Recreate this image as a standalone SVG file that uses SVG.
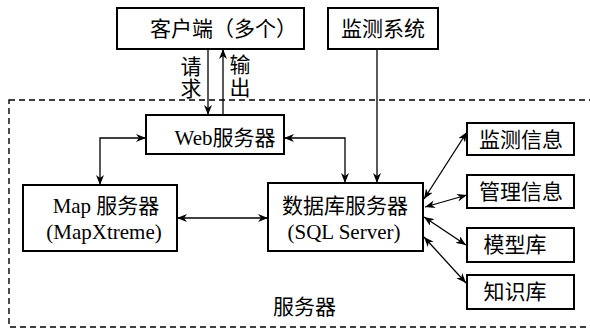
<svg xmlns="http://www.w3.org/2000/svg" width="590" height="329" viewBox="0 0 590 329">
<style>
.box{fill:#fff;stroke:#000;stroke-width:2}
.t{font-family:"Liberation Serif","Noto Sans CJK SC",serif;font-size:21px;fill:#000}
.c{text-anchor:middle}
.ln{fill:none;stroke:#000;stroke-width:1.3}
</style>
<defs>
<marker id="ar" viewBox="0 0 10 8" refX="10" refY="4" markerWidth="10" markerHeight="8" markerUnits="userSpaceOnUse" orient="auto-start-reverse">
<path d="M0,0 L10,4 L0,8 L3,4 z" fill="#000"/>
</marker>
</defs>
<rect x="9" y="100" width="600" height="227" fill="none" stroke="#000" stroke-width="1.4" stroke-dasharray="6,4"/>
<text class="t" x="273" y="314" font-size="20">服务器</text>
<g id="connectors">
<path class="ln" d="M208,49 V115" marker-end="url(#ar)"/>
<path class="ln" d="M223,115 V49" marker-end="url(#ar)"/>
<path class="ln" d="M146,138 H100 V185" marker-start="url(#ar)" marker-end="url(#ar)"/>
<path class="ln" d="M284,138 H345 V183" marker-start="url(#ar)" marker-end="url(#ar)"/>
<path class="ln" d="M377,49 V183" marker-end="url(#ar)"/>
<path class="ln" d="M177,218 H268" marker-start="url(#ar)" marker-end="url(#ar)"/>
<path class="ln" d="M424,199 L467,132" marker-start="url(#ar)" marker-end="url(#ar)"/>
<path class="ln" d="M425,207 L467,195" marker-start="url(#ar)" marker-end="url(#ar)"/>
<path class="ln" d="M424,217 L466,245" marker-start="url(#ar)" marker-end="url(#ar)"/>
<path class="ln" d="M424,237 L466,283" marker-start="url(#ar)" marker-end="url(#ar)"/>
<text class="t c" x="191" y="74" font-size="20">请</text>
<text class="t c" x="191" y="96" font-size="20">求</text>
<text class="t c" x="240" y="72" font-size="20">输</text>
<text class="t c" x="240" y="95" font-size="20">出</text>
</g>
<g id="client">
<rect class="box" x="117" y="8" width="187" height="41"/>
<text class="t" x="150" y="36" font-size="20">客户端（多个）</text>
</g>
<g id="monitor">
<rect class="box" x="328" y="8" width="110" height="41"/>
<text class="t c" x="383" y="36">监测系统</text>
</g>
<g id="web">
<rect class="box" x="146" y="115" width="138" height="39"/>
<text class="t c" x="225" y="145">Web服务器</text>
</g>
<g id="map">
<rect class="box" x="23" y="185" width="154" height="66"/>
<text class="t c" x="106" y="213">Map 服务器</text>
<text class="t c" x="104" y="239">(MapXtreme)</text>
</g>
<g id="db">
<rect class="box" x="268" y="183" width="155" height="68"/>
<text class="t c" x="345" y="213">数据库服务器</text>
<text class="t c" x="344" y="239">(SQL Server)</text>
</g>
<g id="jcxx">
<rect class="box" x="467" y="123" width="107" height="32"/>
<text class="t c" x="521" y="147">监测信息</text>
</g>
<g id="glxx">
<rect class="box" x="467" y="175" width="107" height="33"/>
<text class="t c" x="521" y="199">管理信息</text>
</g>
<g id="mxk">
<rect class="box" x="467" y="228" width="107" height="34"/>
<text class="t c" x="515" y="252">模型库</text>
</g>
<g id="zsk">
<rect class="box" x="467" y="275" width="107" height="34"/>
<text class="t c" x="515" y="299">知识库</text>
</g>
</svg>
